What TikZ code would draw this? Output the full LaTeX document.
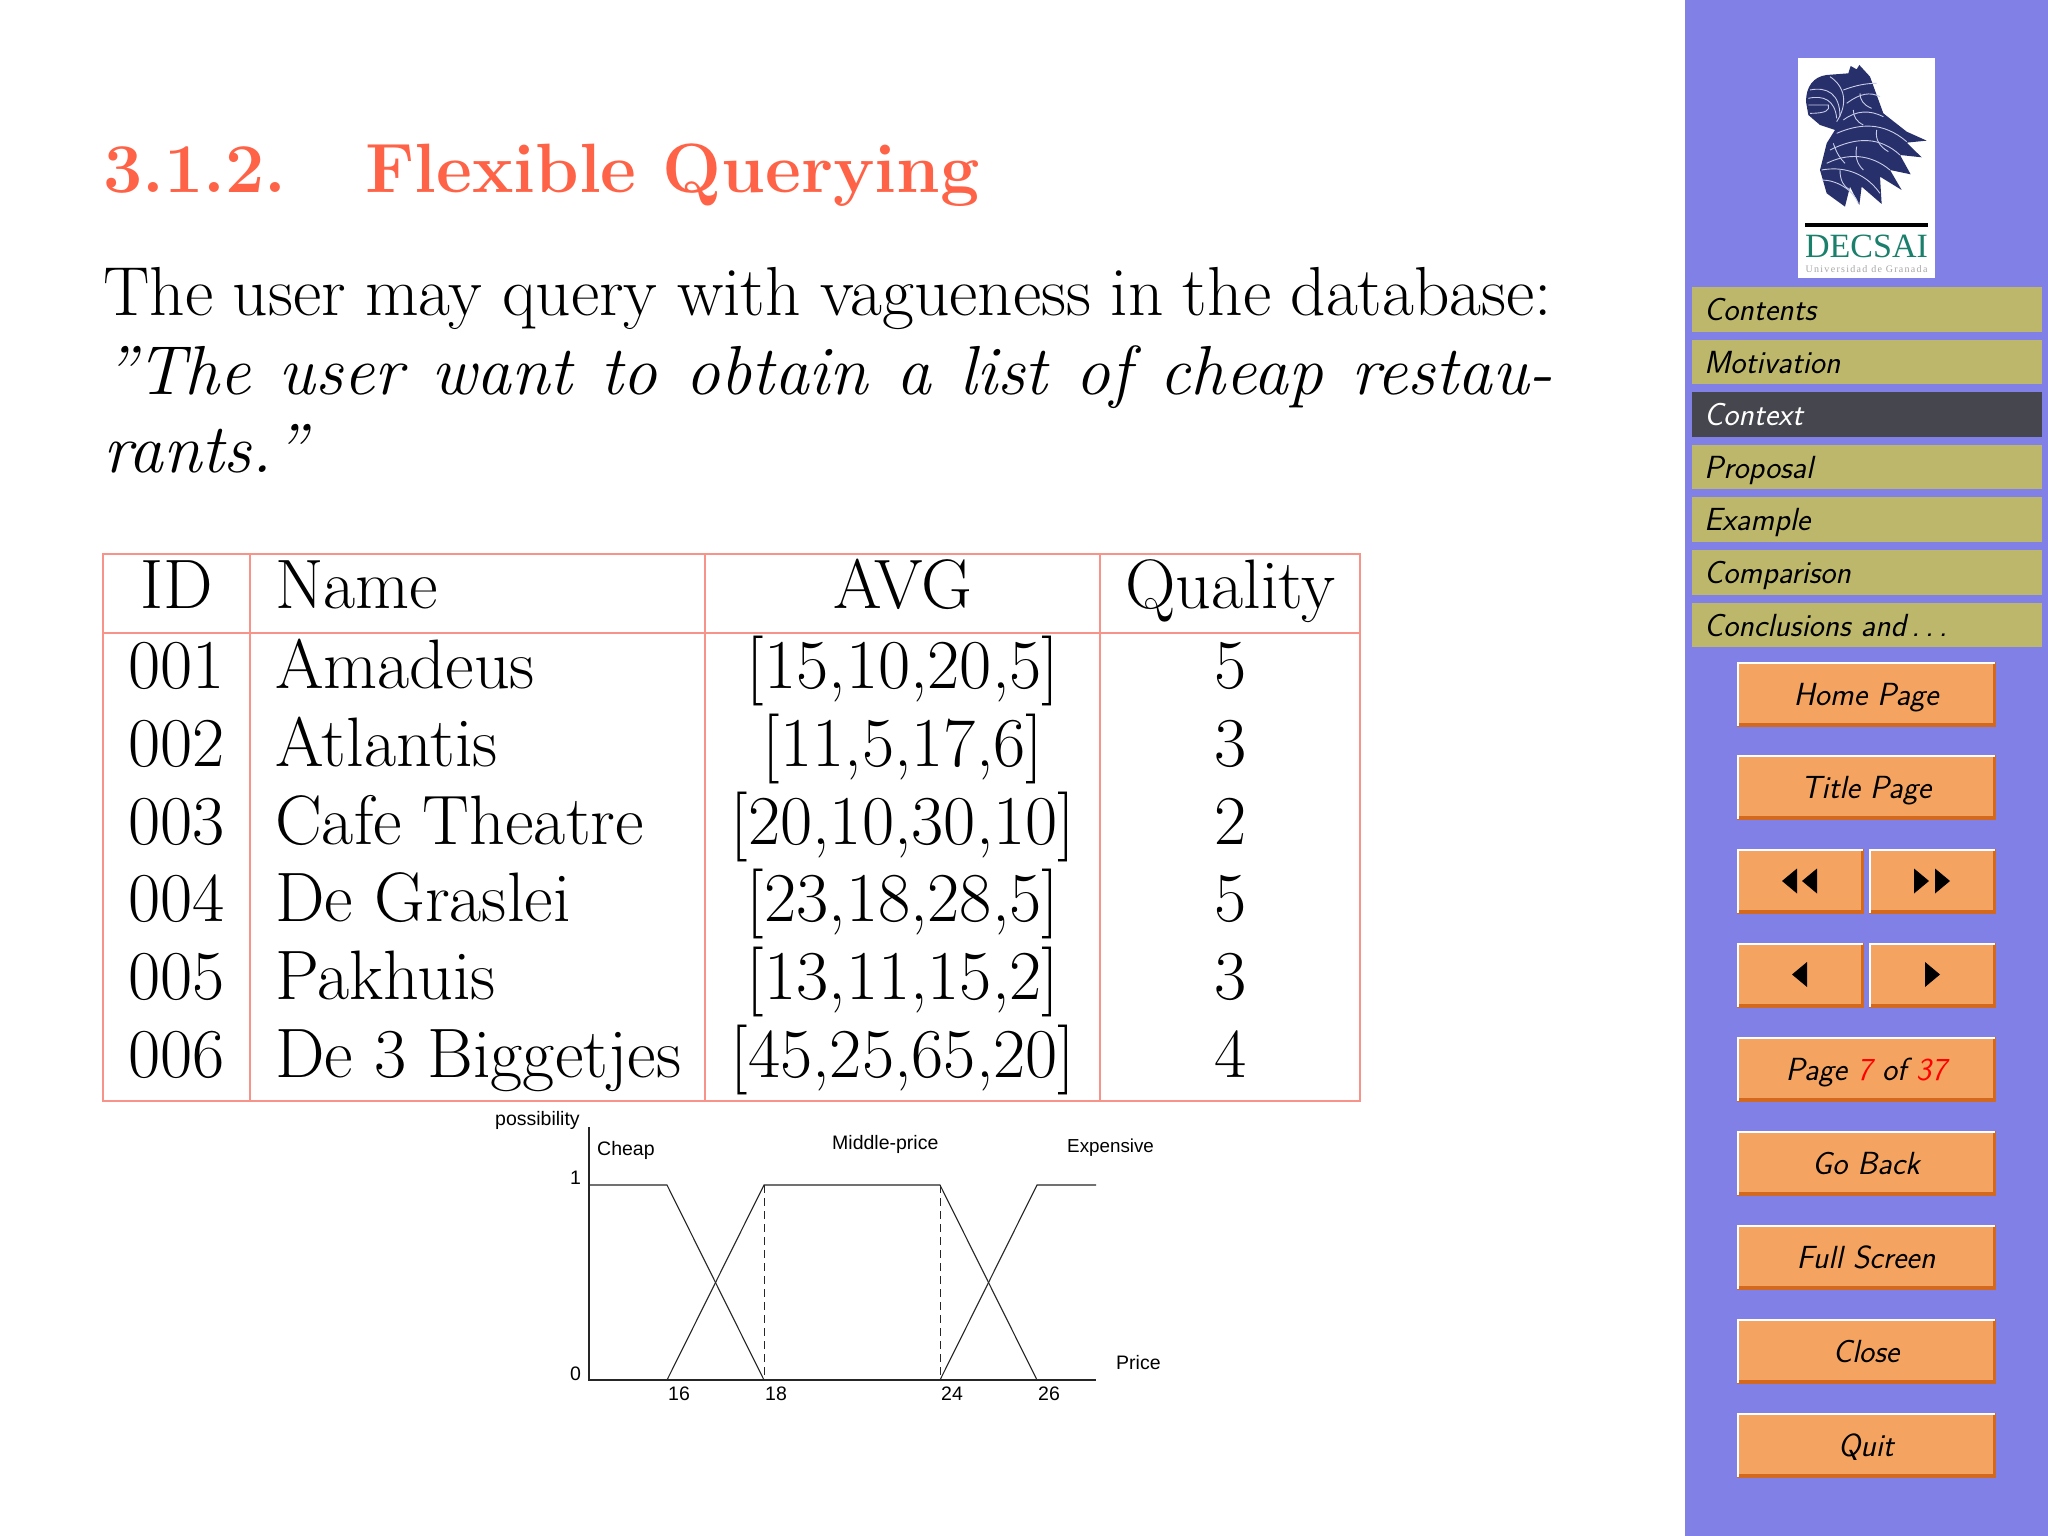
\documentclass[tikz,border=0pt]{standalone}
\usepackage{fontspec}
\newfontfamily\chartfont{Liberation Sans}
\newfontfamily\logofont{Liberation Serif}
\definecolor{sidebar}{HTML}{8080E6}
\definecolor{menu}{HTML}{BDB76B}
\definecolor{menucur}{HTML}{46464E}
\definecolor{btn}{HTML}{F4A460}
\definecolor{btnshade}{HTML}{D2691E}
\definecolor{titlec}{HTML}{FF6347}
\definecolor{rule}{HTML}{F8938A}
\definecolor{navy}{HTML}{27306B}
\definecolor{teal}{HTML}{1A7F6B}
\definecolor{feather}{HTML}{C8CCE8}
\newcommand{\fs}[1]{\fontsize{#1}{#1}\selectfont}
\tikzset{
  x=1pt,y=-1pt,
  body/.style={anchor=base west,inner sep=0pt,font=\fs{69.4}},
  cell/.style={anchor=base,inner sep=0pt,font=\fs{70}},
  cellL/.style={anchor=base west,inner sep=0pt,font=\fs{70}},
  tbl/.style={draw=rule,line width=2pt},
  menutext/.style={anchor=base west,inner sep=0pt,font=\fs{32}\sffamily\itshape},
  btnlabel/.style={anchor=base,inner sep=0pt,font=\fs{32}\sffamily\itshape},
  chartlab/.style={anchor=base west,inner sep=0pt,font=\chartfont\fs{19.5}},
  curve/.style={draw=black!85,line width=1.1pt},
  dash line/.style={draw=black!85,line width=1pt,dash pattern=on 8pt off 5pt},
  tri/.style={fill=black,draw=none},
  plume/.style={draw=feather,line width=0.9pt},
}
\newcommand{\NavBtn}[5]{%
  \fill[btn] (#1,#2) rectangle (#3,#4);
  \fill[btnshade] (#1,#4-3) -- (#3+1,#4-3) -- (#3+1,#4+1) -- (#1,#4+1) -- cycle;
  \fill[btnshade] (#3-2,#2) rectangle (#3+1,#4+1);
  \fill[white] (#1,#2) rectangle (#3,#2+2);
  \fill[white] (#1,#2) rectangle (#1+2,#4);
  \node[btnlabel] at ({(#1+#3)/2},#2+43) {#5};
}
\begin{document}
\begin{tikzpicture}
\useasboundingbox (0,0) rectangle (2048,1536);
\fill[white] (0,0) rectangle (2048,1536);
\fill[sidebar] (1685,0) rectangle (2048,1536);
% title and body
\node[anchor=base west,inner sep=0pt,text=titlec,font=\fs{69.8}\bfseries] (t1) at (103,193) {3.1.2.};
\node[anchor=base west,inner sep=0pt,text=titlec,font=\fs{69.8}\bfseries] (t2) at (365,193) {Flexible Querying};
\node[body] (l1) at (103,315) {\makebox[1449pt][s]{The user may query with vagueness in the database:}};
\node[body] (l2) at (103,394) {\makebox[1450pt][s]{\itshape ”The user want to obtain a list of cheap restau-}};
\node[body] (l3) at (103,472) {\itshape rants.\kern 1.5pt”};
% table
\draw[tbl] (103,554) rectangle (1360,1101);
\draw[tbl] (103,633) -- (1360,633);
\draw[tbl] (249.5,554) -- (249.5,1101);
\draw[tbl] (705,554) -- (705,1101);
\draw[tbl] (1100,554) -- (1100,1101);
\node[cell] (h1) at (176.5,608.5) {ID};
\node[cellL] (h2) at (275,608.5) {Name};
\node[cell] (h3) at (903,608.5) {AVG};
\node[cell] (h4) at (1230.5,608.5) {Quality};
\foreach \y/\i/\n/\a/\q in {688.5/001/Amadeus/{[15,10,20,5]}/5,766.5/002/Atlantis/{[11,5,17,6]}/3,844/003/Cafe Theatre/{[20,10,30,10]}/2,921.8/004/De Graslei/{[23,18,28,5]}/5,999.6/005/Pakhuis/{[13,11,15,2]}/3,1077.4/006/De 3 Biggetjes/{[45,25,65,20]}/4}{
  \node[cell] at (176.5,\y) {\i};
  \node[cellL] at (275,\y) {\n};
  \node[cell] at (903,\y) {\a};
  \node[cell] at (1230.5,\y) {\q};
}
% chart
\draw[curve] (589,1127) -- (589,1380) -- (1096,1380);
\draw[curve] (589,1185) -- (667,1185) -- (764,1380);
\draw[curve] (667,1380) -- (764,1185) -- (940,1185) -- (1037,1380);
\draw[curve] (940,1380) -- (1037,1185) -- (1096,1185);
\draw[dash line] (764,1185) -- (764,1380);
\draw[dash line] (940,1185) -- (940,1380);
\node[chartlab] at (495,1125) {possibility};
\node[chartlab] at (597,1155) {Cheap};
\node[chartlab] at (832,1149) {Middle-price};
\node[chartlab,font=\chartfont\fs{18.8}] at (1067,1152) {Expensive};
\node[chartlab] at (570,1184) {1};
\node[chartlab] at (570,1380) {0};
\node[chartlab] at (1116,1369) {Price};
\node[chartlab] at (668,1400) {16};
\node[chartlab] at (765,1400) {18};
\node[chartlab] at (941,1400) {24};
\node[chartlab] at (1038,1400) {26};
% logo
\fill[white] (1798,58) rectangle (1935,278);
\begin{scope}[shift={(1680,30)},x=0.3333pt,y=-0.3333pt]
\fill[navy] (378,215) .. controls (378,170) and (400,140) .. (440,135) -- (505,130) -- (512,108) -- (530,118) -- (538,105) -- (570,140) -- (610,250) -- (680,305) -- (740,332) -- (680,338) -- (725,382) -- (660,375) -- (692,433) -- (630,420) -- (665,480) -- (600,440) -- (605,522) -- (545,470) -- (538,525) -- (510,470) -- (495,530) -- (440,490) -- (420,420) -- (440,340) -- (465,300) -- (420,285) -- (385,255) -- cycle;
\draw[plume] (390,180) .. controls (440,170) and (480,190) .. (480,260);
\draw[plume] (385,225) -- (445,225) .. controls (450,240) and (440,250) .. (390,250);
\draw[plume] (385,205) .. controls (430,195) and (465,210) .. (470,265);
\draw[plume] (450,140) .. controls (495,170) and (505,220) .. (470,275);
\draw[plume] (490,180) .. controls (530,165) and (560,160) .. (590,160);
\draw[plume] (500,220) .. controls (540,190) and (570,185) .. (600,200);
\draw[plume] (490,270) .. controls (530,240) and (570,240) .. (610,260);
\draw[plume] (470,310) .. controls (540,280) and (610,275) .. (680,335);
\draw[plume] (450,360) .. controls (530,320) and (600,320) .. (660,375);
\draw[plume] (440,400) .. controls (500,370) and (570,370) .. (630,420);
\draw[plume] (425,420) .. controls (480,410) and (550,420) .. (600,490);
\draw[plume] (425,450) .. controls (470,450) and (520,480) .. (535,520);
\draw[plume] (530,350) .. controls (525,380) and (530,400) .. (550,420);
\draw[plume] (460,340) .. controls (470,370) and (480,385) .. (495,400);
\draw[plume] (590,300) .. controls (585,330) and (600,350) .. (625,365);
\draw[plume] (520,240) .. controls (520,260) and (530,275) .. (550,285);
\draw[plume] (540,190) .. controls (540,210) and (550,225) .. (575,235);
\draw[plume] (480,420) .. controls (480,450) and (490,470) .. (510,480);
\fill[black] (374,580) rectangle (744,592);
\end{scope}
\node[anchor=base,inner sep=0pt,text=teal,font=\logofont\fs{34}] (dec) at (1866.5,257) {\makebox[123pt][s]{D\hfill E\hfill C\hfill S\hfill A\hfill I}};
\node[anchor=base,inner sep=0pt,text=black!35,font=\logofont\fs{10}\addfontfeature{LetterSpace=13}] (uni) at (1866.5,272) {Universidad de Granada};
% menu
\foreach \n/\y/\t in {m1/287/Contents,m2/339.6/Motivation,m4/444.8/Proposal,m5/497.4/Example,m6/550/Comparison,m7/602.6/Conclusions and\,.\,.\,.}{
  \fill[menu] (1692,\y) rectangle (2042,\y+44.5);
  \node[menutext] (\n) at (1704,\y+33.5) {\t};
}
\fill[menucur] (1692,392.2) rectangle (2042,436.7);
\node[menutext,text=white] (m3) at (1704,425.7) {Context};
% buttons
\NavBtn{1737}{662}{1995}{726}{Home Page}
\NavBtn{1737}{755}{1995}{819}{Title Page}
\NavBtn{1737}{849}{1863}{913}{}
\NavBtn{1869}{849}{1995}{913}{}
\NavBtn{1737}{943}{1863}{1007}{}
\NavBtn{1869}{943}{1995}{1007}{}
\NavBtn{1737}{1037}{1995}{1101}{Page {\color{red}7} of {\color{red}37}}
\NavBtn{1737}{1131}{1995}{1195}{Go Back}
\NavBtn{1737}{1225}{1995}{1289}{Full Screen}
\NavBtn{1737}{1319}{1995}{1383}{Close}
\NavBtn{1737}{1413}{1995}{1477}{Quit}
% triangles
\fill[tri] (1782,881) -- (1797,868.5) -- (1797,893.5) -- cycle;
\fill[tri] (1802,881) -- (1817,868.5) -- (1817,893.5) -- cycle;
\fill[tri] (1929,881) -- (1914,868.5) -- (1914,893.5) -- cycle;
\fill[tri] (1950,881) -- (1935,868.5) -- (1935,893.5) -- cycle;
\fill[tri] (1792,974.5) -- (1807,962) -- (1807,987) -- cycle;
\fill[tri] (1940,974.5) -- (1925,962) -- (1925,987) -- cycle;
\end{tikzpicture}
\end{document}
